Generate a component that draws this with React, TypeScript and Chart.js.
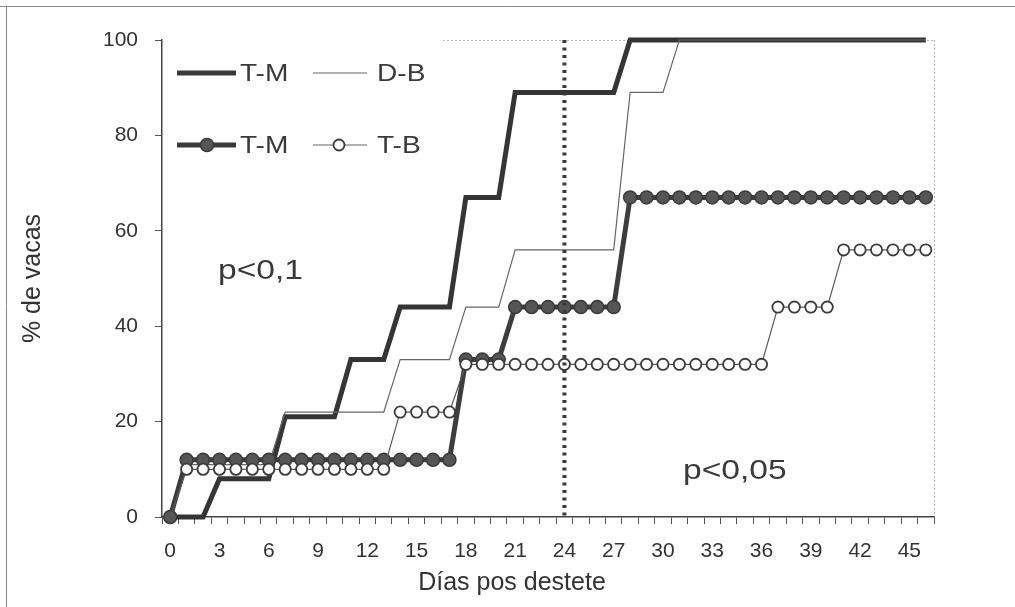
import React, { useEffect, useRef } from "react";
import { Chart, registerables } from "chart.js";

Chart.register(...registerables);

// Days after weaning (categories)
const dayLabels = [
  "0", "1", "2", "3", "4", "5", "6", "7", "8", "9",
  "10", "11", "12", "13", "14", "15", "16", "17", "18", "19",
  "20", "21", "22", "23", "24", "25", "26", "27", "28", "29",
  "30", "31", "32", "33", "34", "35", "36", "37", "38", "39",
  "40", "41", "42", "43", "44", "45", "46",
];

// T-M (thick line, no markers)
const tmLine = [
  0, 0, 0, 8, 8, 8, 8, 21, 21, 21,
  21, 33, 33, 33, 44, 44, 44, 44, 67, 67,
  67, 89, 89, 89, 89, 89, 89, 89, 100, 100,
  100, 100, 100, 100, 100, 100, 100, 100, 100, 100,
  100, 100, 100, 100, 100, 100, 100,
];

// D-B (thin line)
const dbLine = [
  0, 11, 11, 11, 11, 11, 11, 22, 22, 22,
  22, 22, 22, 22, 33, 33, 33, 33, 44, 44,
  44, 56, 56, 56, 56, 56, 56, 56, 89, 89,
  89, 100, 100, 100, 100, 100, 100, 100, 100, 100,
  100, 100, 100, 100, 100, 100, 100,
];

// T-M (thick line with filled markers)
const tmMarked = [
  0, 12, 12, 12, 12, 12, 12, 12, 12, 12,
  12, 12, 12, 12, 12, 12, 12, 12, 33, 33,
  33, 44, 44, 44, 44, 44, 44, 44, 67, 67,
  67, 67, 67, 67, 67, 67, 67, 67, 67, 67,
  67, 67, 67, 67, 67, 67, 67,
];

// T-B (thin line with open circles)
const tbMarked = [
  0, 10, 10, 10, 10, 10, 10, 10, 10, 10,
  10, 10, 10, 10, 22, 22, 22, 22, 32, 32,
  32, 32, 32, 32, 32, 32, 32, 32, 32, 32,
  32, 32, 32, 32, 32, 32, 32, 44, 44, 44,
  44, 56, 56, 56, 56, 56, 56,
];

const yTicks = [0, 20, 40, 60, 80, 100];
const xLabelEvery = 3;
const cutoffDay = "24";
const xTitle = "Días pos destete";
const yTitle = "% de vacas";

const FONT = "'Liberation Sans', Arial, sans-serif";
const TEXT = "#333333";

const stretchText = (ctx: any, text: string, x: number, y: number, sx: number) => {
  ctx.save();
  ctx.translate(x, y);
  ctx.scale(sx, 1);
  ctx.fillText(text, 0, 0);
  ctx.restore();
};

const decorPlugin = {
  id: "decor",
  beforeDraw(chart: any) {
    const { ctx, width, height } = chart;
    ctx.save();
    ctx.fillStyle = "#ffffff";
    ctx.fillRect(0, 0, width, height);
    // outer frame (partial, as in scan)
    ctx.strokeStyle = "#8a8a8a";
    ctx.lineWidth = 1;
    ctx.beginPath();
    ctx.moveTo(0, 6.5);
    ctx.lineTo(width, 6.5);
    ctx.moveTo(6.5, 6);
    ctx.lineTo(6.5, height);
    ctx.stroke();
    // faint plot-area border (top right part and right side)
    const a = chart.chartArea;
    ctx.strokeStyle = "#b8b8b8";
    ctx.setLineDash([2, 2]);
    ctx.beginPath();
    ctx.moveTo(443, a.top + 0.5);
    ctx.lineTo(a.right, a.top + 0.5);
    ctx.moveTo(a.right + 0.5, a.top);
    ctx.lineTo(a.right + 0.5, a.bottom);
    ctx.stroke();
    ctx.restore();
  },
  afterDraw(chart: any) {
    const { ctx } = chart;
    const a = chart.chartArea;
    ctx.save();
    ctx.fillStyle = TEXT;
    ctx.font = `25px ${FONT}`;
    ctx.textAlign = "center";
    ctx.textBaseline = "middle";
    // x axis title
    ctx.fillText(xTitle, 512, 583);
    // y axis title
    ctx.save();
    ctx.translate(33, (a.top + a.bottom) / 2);
    ctx.rotate(-Math.PI / 2);
    ctx.fillText(yTitle, 0, 0);
    ctx.restore();
    ctx.restore();
  },
  afterDatasetsDraw(chart: any) {
    const { ctx } = chart;
    const a = chart.chartArea;
    const xs = chart.scales.x;
    const x = xs.getPixelForValue(dayLabels.indexOf(cutoffDay));
    ctx.save();
    // vertical dotted cutoff line
    ctx.strokeStyle = "#3a3a3a";
    ctx.lineWidth = 4;
    ctx.setLineDash([3, 4.5]);
    ctx.beginPath();
    ctx.moveTo(x, a.top);
    ctx.lineTo(x, a.bottom);
    ctx.stroke();
    ctx.setLineDash([]);

    // legend
    const drawLine = (x1: number, x2: number, y: number, w: number, c: string) => {
      ctx.strokeStyle = c;
      ctx.lineWidth = w;
      ctx.beginPath();
      ctx.moveTo(x1, y);
      ctx.lineTo(x2, y);
      ctx.stroke();
    };
    ctx.font = `24px ${FONT}`;
    ctx.fillStyle = "#3a3a3a";
    ctx.textBaseline = "middle";
    ctx.textAlign = "left";
    const r1 = 73, r2 = 145, sx = 1.17;
    drawLine(177, 236, r1, 5, "#3a3a3a");
    stretchText(ctx, "T-M", 240, r1 + 1, sx);
    drawLine(313, 367, r1, 1.2, "#666");
    stretchText(ctx, "D-B", 377, r1 + 1, sx);
    drawLine(177, 236, r2, 5, "#3a3a3a");
    ctx.beginPath();
    ctx.arc(207, r2, 6.5, 0, Math.PI * 2);
    ctx.fillStyle = "#555";
    ctx.fill();
    ctx.strokeStyle = "#3a3a3a";
    ctx.lineWidth = 1.5;
    ctx.stroke();
    ctx.fillStyle = "#3a3a3a";
    stretchText(ctx, "T-M", 240, r2 + 1, sx);
    drawLine(313, 367, r2, 1.2, "#666");
    ctx.beginPath();
    ctx.arc(339, r2, 5.5, 0, Math.PI * 2);
    ctx.fillStyle = "#fff";
    ctx.fill();
    ctx.strokeStyle = "#3c3c3c";
    ctx.lineWidth = 1.8;
    ctx.stroke();
    ctx.fillStyle = "#3a3a3a";
    stretchText(ctx, "T-B", 377, r2 + 1, sx);

    // significance annotations
    ctx.font = `28px ${FONT}`;
    ctx.textBaseline = "alphabetic";
    stretchText(ctx, "p<0,1", 218, 279, 1.2);
    stretchText(ctx, "p<0,05", 683, 479, 1.2);
    ctx.restore();
  },
};

export default function App() {
  const ref = useRef<HTMLCanvasElement | null>(null);

  useEffect(() => {
    if (!ref.current) return;
    const chart = new Chart(ref.current, {
      type: "line",
      data: {
        labels: dayLabels,
        datasets: [
          {
            label: "T-B",
            data: tbMarked,
            borderColor: "#5a5a5a",
            borderWidth: 1.2,
            pointRadius: (c: any) => (c.dataIndex === 0 ? 0 : 5.6),
            pointBackgroundColor: "#ffffff",
            pointBorderColor: "#3c3c3c",
            pointBorderWidth: 1.8,
            tension: 0,
            order: 0,
            clip: false,
          } as any,
          {
            label: "T-M",
            data: tmMarked,
            borderColor: "#3d3d3d",
            borderWidth: 5,
            pointRadius: 6.5,
            pointBackgroundColor: "#555555",
            pointBorderColor: "#3a3a3a",
            pointBorderWidth: 1.5,
            tension: 0,
            order: 1,
            clip: false,
          } as any,
          {
            label: "D-B",
            data: dbLine,
            borderColor: "#666666",
            borderWidth: 1.2,
            pointRadius: 0,
            tension: 0,
            order: 2,
            clip: false,
          } as any,
          {
            label: "T-M ",
            data: tmLine,
            borderColor: "#353535",
            borderWidth: 5,
            pointRadius: 0,
            tension: 0,
            order: 3,
            clip: false,
          } as any,
        ],
      },
      options: {
        animation: false,
        responsive: false,
        maintainAspectRatio: false,
        events: [],
        layout: { padding: { left: 0, right: 81, top: 40, bottom: 0 } },
        plugins: {
          legend: { display: false },
          tooltip: { enabled: false },
          title: { display: false },
        },
        scales: {
          x: {
            type: "category",
            offset: true,
            grid: {
              offset: true,
              drawOnChartArea: false,
              drawTicks: true,
              tickLength: 7,
              color: "#555",
              lineWidth: 1,
            },
            border: { display: true, color: "#444", width: 1.5 },
            ticks: {
              autoSkip: false,
              maxRotation: 0,
              minRotation: 0,
              padding: 15,
              color: TEXT,
              font: { family: FONT, size: 21 },
              callback: (_v: any, i: number) => (i % xLabelEvery === 0 ? dayLabels[i] : ""),
            },
            title: { display: false },
            afterFit: (s: any) => {
              s.height = 90;
            },
          },
          y: {
            min: 0,
            max: 100,
            afterBuildTicks: (s: any) => {
              s.ticks = yTicks.map((v) => ({ value: v }));
            },
            grid: {
              drawOnChartArea: false,
              drawTicks: true,
              tickLength: 7,
              color: "#555",
            },
            border: { display: true, color: "#444", width: 1.5 },
            ticks: {
              padding: 17,
              color: TEXT,
              font: { family: FONT, size: 21 },
            },
            title: { display: false },
            afterFit: (s: any) => {
              s.width = 162;
            },
          },
        },
      },
      plugins: [decorPlugin],
    });
    return () => chart.destroy();
  }, []);

  return (
    <div style={{ position: "fixed", left: 0, top: 0, width: 1015, height: 607, background: "#fff" }}>
      <canvas ref={ref} width={1015} height={607} style={{ display: "block" }} />
    </div>
  );
}
